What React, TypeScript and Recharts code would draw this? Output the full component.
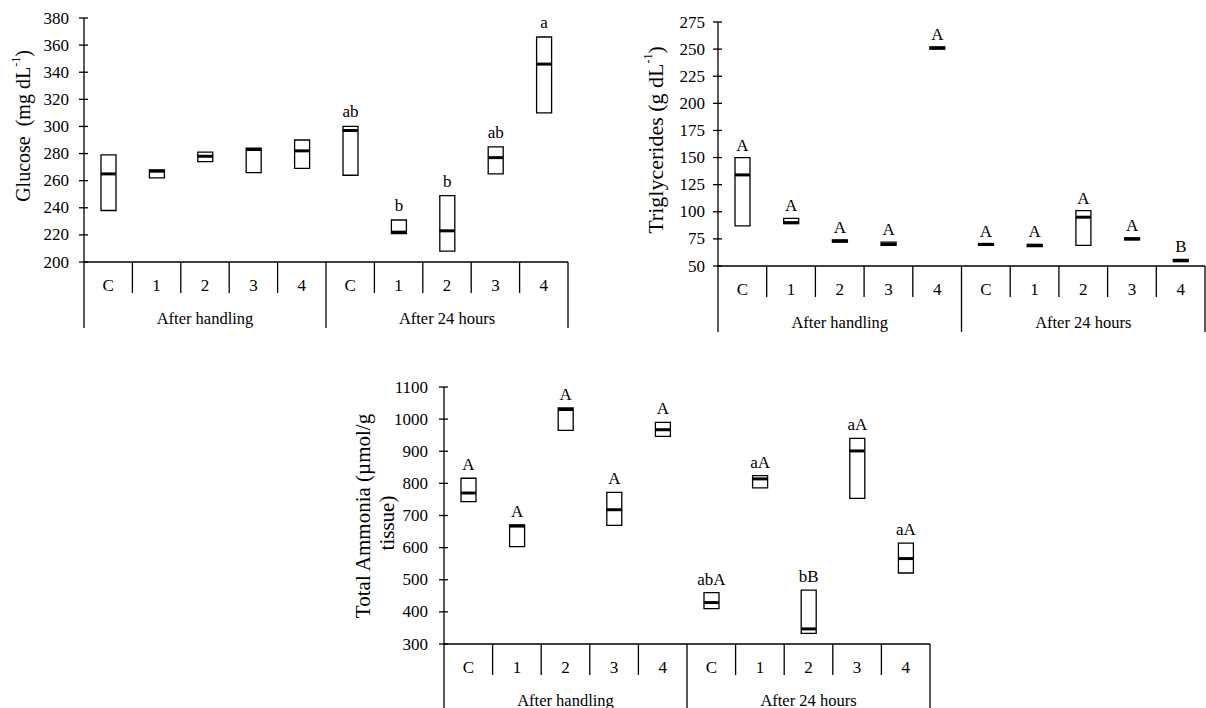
import React from "react";
import { ComposedChart, Bar, Scatter, XAxis, YAxis, LabelList, Label } from "recharts";

const categories = ["C", "1", "2", "3", "4", "C", "1", "2", "3", "4"];
const groups = ["After handling", "After 24 hours"];

const glucoseLow = [238, 262, 274, 266, 269, 264, 221, 208, 265, 310];
const glucoseMedian = [265, 267, 278, 283, 282, 297, 222, 223, 277, 346];
const glucoseHigh = [279, 268, 281, 284, 290, 300, 231, 249, 285, 366];
const glucoseLetters = ["", "", "", "", "", "ab", "b", "b", "ab", "a"];
const glucoseTicks = [200, 220, 240, 260, 280, 300, 320, 340, 360, 380];

const trigLow = [87, 89, 72, 69, 250, 69, 68, 69, 74, 54];
const trigMedian = [134, 90, 73, 70, 251, 70, 69, 95, 75, 55];
const trigHigh = [150, 94, 74, 72, 252, 70.5, 70, 101, 76, 56];
const trigLetters = ["A", "A", "A", "A", "A", "A", "A", "A", "A", "B"];
const trigTicks = [50, 75, 100, 125, 150, 175, 200, 225, 250, 275];

const ammoniaLow = [743, 603, 965, 669, 946, 410, 786, 333, 753, 521];
const ammoniaMedian = [770, 667, 1030, 718, 967, 429, 814, 347, 901, 566];
const ammoniaHigh = [816, 671, 1035, 772, 990, 460, 824, 468, 940, 614];
const ammoniaLetters = ["A", "A", "A", "A", "A", "abA", "aA", "bB", "aA", "aA"];
const ammoniaTicks = [300, 400, 500, 600, 700, 800, 900, 1000, 1100];

const FONT = "'Liberation Serif', 'Times New Roman', serif";
const LINE = 1.3;

const buildRows = (low: number[], median: number[], high: number[], letters: string[]) =>
  categories.map((name, i) => ({
    name,
    range: [low[i], high[i]],
    median: median[i],
    letter: letters[i],
  }));

function CategoryTick(props: any) {
  const { x, index, payload, axisY, halfBand, longLen } = props;
  const right = x + halfBand;
  const endOfGroup = (index + 1) % 5 === 0;
  return (
    <g>
      {index === 0 && (
        <line x1={x - halfBand} x2={x - halfBand} y1={axisY} y2={axisY + longLen} stroke="#000" strokeWidth={LINE} />
      )}
      <line x1={right} x2={right} y1={axisY} y2={axisY + (endOfGroup ? longLen : 31)} stroke="#000" strokeWidth={LINE} />
      <text x={x} y={axisY + 23} textAnchor="middle" dominantBaseline="central" fontSize={17} fontFamily={FONT} fill="#000">
        {payload.value}
      </text>
      {index % 5 === 2 && (
        <text x={x} y={axisY + 56} textAnchor="middle" dominantBaseline="central" fontSize={16.5} fontFamily={FONT} fill="#000">
          {groups[Math.floor(index / 5)]}
        </text>
      )}
    </g>
  );
}

function ValueTick(props: any) {
  const { y, payload, axisX, gap } = props;
  return (
    <g>
      <line x1={axisX - 5} x2={axisX + 4} y1={y} y2={y} stroke="#000" strokeWidth={LINE} />
      <text x={axisX - gap} y={y} textAnchor="end" dominantBaseline="central" fontSize={17} fontFamily={FONT} fill="#000">
        {payload.value}
      </text>
    </g>
  );
}

const MedianMark = (props: any) => {
  const { cx, cy } = props;
  return <line x1={cx - 7.5} x2={cx + 7.5} y1={cy} y2={cy} stroke="#000" strokeWidth={3} />;
};

const rotatedText = (cx: number, cy: number, size: number, children: React.ReactNode, key?: string) => (
  <text
    key={key}
    x={cx}
    y={cy}
    transform={`rotate(-90, ${cx}, ${cy})`}
    textAnchor="middle"
    dominantBaseline="central"
    fontSize={size}
    fontFamily={FONT}
    fill="#000"
  >
    {children}
  </text>
);

interface BoxPanelProps {
  rows: any[];
  ticks: number[];
  domain: [number, number];
  width: number;
  height: number;
  margin: { top: number; right: number; bottom: number; left: number };
  axisX: number;
  axisY: number;
  halfBand: number;
  longLen: number;
  xAxisHeight: number;
  tickGap: number;
  title: () => React.ReactNode;
  labelOffset: number;
}

function BoxPanel(p: BoxPanelProps) {
  return (
    <ComposedChart width={p.width} height={p.height} data={p.rows} margin={p.margin} style={{ fontFamily: FONT }}>
      <XAxis
        dataKey="name"
        interval={0}
        height={p.xAxisHeight}
        tickLine={false}
        axisLine={{ stroke: "#000", strokeWidth: LINE }}
        tick={<CategoryTick axisY={p.axisY} halfBand={p.halfBand} longLen={p.longLen} />}
      />
      <YAxis
        type="number"
        domain={p.domain}
        ticks={p.ticks}
        interval={0}
        width={60}
        tickLine={false}
        axisLine={{ stroke: "#000", strokeWidth: LINE }}
        tick={<ValueTick axisX={p.axisX} gap={p.tickGap} />}
      >
        <Label content={p.title} />
      </YAxis>
      <Bar dataKey="range" barSize={15} fill="#fff" stroke="#000" strokeWidth={LINE} isAnimationActive={false}>
        <LabelList
          dataKey="letter"
          position="top"
          offset={p.labelOffset}
          style={{ fontSize: 17, fontFamily: FONT, fill: "#000" }}
        />
      </Bar>
      <Scatter dataKey="median" shape={MedianMark} isAnimationActive={false} />
    </ComposedChart>
  );
}

export default function App() {
  const glucoseRows = buildRows(glucoseLow, glucoseMedian, glucoseHigh, glucoseLetters);
  const trigRows = buildRows(trigLow, trigMedian, trigHigh, trigLetters);
  const ammoniaRows = buildRows(ammoniaLow, ammoniaMedian, ammoniaHigh, ammoniaLetters);

  return (
    <div style={{ position: "absolute", left: 0, top: 0, width: 1206, height: 708, background: "#fff", overflow: "hidden" }}>
      <div style={{ position: "absolute", left: 0, top: 0 }}>
        <BoxPanel
          rows={glucoseRows}
          ticks={glucoseTicks}
          domain={[200, 380]}
          width={600}
          height={340}
          margin={{ top: 18, right: 32, bottom: 12, left: 24 }}
          axisX={84}
          axisY={262}
          halfBand={24.2}
          longLen={66}
          xAxisHeight={66}
          tickGap={15}
          labelOffset={9}
          title={() =>
            rotatedText(
              23,
              126,
              20,
              <>
                {"Glucose\u00a0 (mg dL"}
                <tspan dy={-7} fontSize={12}>-1</tspan>
                <tspan dy={7}>)</tspan>
              </>
            )
          }
        />
      </div>
      <div style={{ position: "absolute", left: 600, top: 0 }}>
        <BoxPanel
          rows={trigRows}
          ticks={trigTicks}
          domain={[50, 275]}
          width={606}
          height={340}
          margin={{ top: 22, right: 1, bottom: 8, left: 58 }}
          axisX={118}
          axisY={266}
          halfBand={24.35}
          longLen={66}
          xAxisHeight={66}
          tickGap={13}
          labelOffset={7}
          title={() =>
            rotatedText(
              55,
              140,
              22,
              <>
                {"Triglycerides (g dL"}
                <tspan dy={-7} fontSize={12}>-1</tspan>
                <tspan dy={7}>)</tspan>
              </>
            )
          }
        />
      </div>
      <div style={{ position: "absolute", left: 340, top: 370 }}>
        <BoxPanel
          rows={ammoniaRows}
          ticks={ammoniaTicks}
          domain={[300, 1100]}
          width={620}
          height={338}
          margin={{ top: 17, right: 30, bottom: 0, left: 44 }}
          axisX={104}
          axisY={274}
          halfBand={24.3}
          longLen={64}
          xAxisHeight={64}
          tickGap={16}
          labelOffset={8}
          title={() => (
            <g>
              {rotatedText(23, 146, 21, "Total Ammonia (\u00b5mol/g", "l1")}
              {rotatedText(47, 153, 21, "tissue)", "l2")}
            </g>
          )}
        />
      </div>
    </div>
  );
}
